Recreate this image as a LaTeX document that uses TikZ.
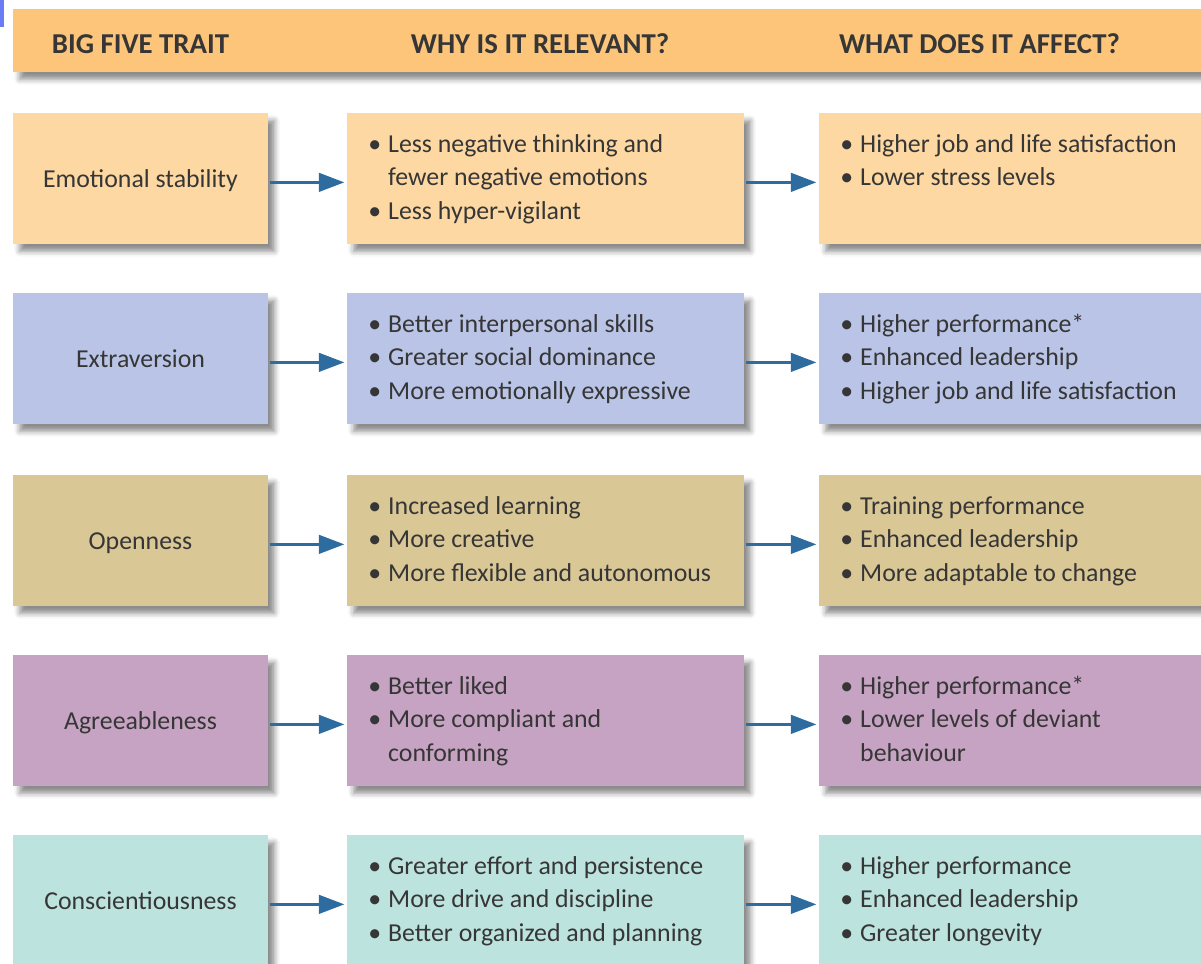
\documentclass[tikz,border=0pt]{standalone}
\usepackage{fontspec}
\setmainfont{Carlito}
\usetikzlibrary{arrows.meta,shadows.blur}

\definecolor{hdrfill}{HTML}{FDC57A}
\definecolor{rowA}{HTML}{FDD8A2}
\definecolor{rowB}{HTML}{BAC4E6}
\definecolor{rowC}{HTML}{DAC796}
\definecolor{rowD}{HTML}{C6A3C3}
\definecolor{rowE}{HTML}{BDE3DE}
\definecolor{flowc}{HTML}{2E6B9E}
\definecolor{txt}{HTML}{363636}
\definecolor{markc}{HTML}{6B7BF5}

\def\pxu{0.02cm}

% bullet list set as a tabular, first row baseline on the node base
\newcommand{\blist}[1]{\begin{tabular}[t]{@{}p{11.3pt}@{}l@{}}#1\end{tabular}}

\begin{document}
\begin{tikzpicture}[x=0.02cm,y=-0.02cm,
  bodyfont/.style={font=\fontsize{14.7}{19.3}\selectfont, text=txt},
  shade/.style={blur shadow={shadow xshift=3.5pt, shadow yshift=-4pt,
      shadow blur radius=3pt, shadow opacity=45}},
  box/.style={shade, draw=none, inner sep=0, anchor=north west,
      minimum height=131*\pxu},
  traitbox/.style={box, minimum width=255*\pxu},
  whybox/.style={box, minimum width=397*\pxu},
  effbox/.style={box, minimum width=400*\pxu},
  hdrbar/.style={shade, fill=hdrfill, draw=none, inner sep=0, anchor=north west,
      minimum width=1215*\pxu, minimum height=63*\pxu},
  hdrtext/.style={font=\fontsize{16.4}{20}\selectfont\bfseries, text=txt, inner sep=0},
  traitlabel/.style={bodyfont, anchor=base, inner sep=0},
  listtext/.style={bodyfont, anchor=base west, inner sep=0},
  flow/.style={draw=flowc, line width=1.7pt,
      -{Triangle[length=14.5pt,width=10.5pt]}, shorten >=1.5pt, shorten <=1pt}
]
\useasboundingbox (0,0) rectangle (1201,964);
\clip (0,0) rectangle (1201,964);

% small marker in the top-left corner
\fill[markc] (0,0) rectangle (4,27);

% header bar
\node[hdrbar] (header) at (13,9) {};
\node[hdrtext] (h1) at (140.5,44) {BIG FIVE TRAIT};
\node[hdrtext] (h2) at (540,44) {WHY IS IT RELEVANT?};
\node[hdrtext] (h3) at (979.5,44) {WHAT DOES IT AFFECT?};

% ---------- row 1: emotional stability ----------
\node[traitbox, fill=rowA] (t1) at (13,113) {};
\node[whybox, fill=rowA] (w1) at (347,113) {};
\node[effbox, fill=rowA] (e1) at (819,113) {};
\node[traitlabel] (t1l) at (140.5,187) {Emotional stability};
\node[listtext] (w1l) at (368,152) {\blist{\textbullet & Less negative thinking and\\ & fewer negative emotions\\ \textbullet & Less hyper-vigilant}};
\node[listtext] (e1l) at (840,152) {\blist{\textbullet & Higher job and life satisfaction\\ \textbullet & Lower stress levels}};

% ---------- row 2: extraversion ----------
\node[traitbox, fill=rowB] (t2) at (13,293) {};
\node[whybox, fill=rowB] (w2) at (347,293) {};
\node[effbox, fill=rowB] (e2) at (819,293) {};
\node[traitlabel] (t2l) at (140.5,367) {Extraversion};
\node[listtext] (w2l) at (368,332) {\blist{\textbullet & Better interpersonal skills\\ \textbullet & Greater social dominance\\ \textbullet & More emotionally expressive}};
\node[listtext] (e2l) at (840,332) {\blist{\textbullet & Higher performance*\\ \textbullet & Enhanced leadership\\ \textbullet & Higher job and life satisfaction}};

% ---------- row 3: openness ----------
\node[traitbox, fill=rowC] (t3) at (13,475) {};
\node[whybox, fill=rowC] (w3) at (347,475) {};
\node[effbox, fill=rowC] (e3) at (819,475) {};
\node[traitlabel] (t3l) at (140.5,549) {Openness};
\node[listtext] (w3l) at (368,514) {\blist{\textbullet & Increased learning\\ \textbullet & More creative\\ \textbullet & More flexible and autonomous}};
\node[listtext] (e3l) at (840,514) {\blist{\textbullet & Training performance\\ \textbullet & Enhanced leadership\\ \textbullet & More adaptable to change}};

% ---------- row 4: agreeableness ----------
\node[traitbox, fill=rowD] (t4) at (13,655) {};
\node[whybox, fill=rowD] (w4) at (347,655) {};
\node[effbox, fill=rowD] (e4) at (819,655) {};
\node[traitlabel] (t4l) at (140.5,729) {Agreeableness};
\node[listtext] (w4l) at (368,694) {\blist{\textbullet & Better liked\\ \textbullet & More compliant and\\ & conforming}};
\node[listtext] (e4l) at (840,694) {\blist{\textbullet & Higher performance*\\ \textbullet & Lower levels of deviant\\ & behaviour}};

% ---------- row 5: conscientiousness ----------
\node[traitbox, fill=rowE] (t5) at (13,835) {};
\node[whybox, fill=rowE] (w5) at (347,835) {};
\node[effbox, fill=rowE] (e5) at (819,835) {};
\node[traitlabel] (t5l) at (140.5,909) {Conscientiousness};
\node[listtext] (w5l) at (368,874) {\blist{\textbullet & Greater effort and persistence\\ \textbullet & More drive and discipline\\ \textbullet & Better organized and planning}};
\node[listtext] (e5l) at (840,874) {\blist{\textbullet & Higher performance\\ \textbullet & Enhanced leadership\\ \textbullet & Greater longevity}};

% connectors: trait -> why -> effect
\foreach \r in {1,...,5}{
  \draw[flow] ([yshift=-2pt]t\r.east) -- ([yshift=-2pt]w\r.west);
  \draw[flow] ([yshift=-2pt]w\r.east) -- ([yshift=-2pt]e\r.west);
}
\end{tikzpicture}
\end{document}
